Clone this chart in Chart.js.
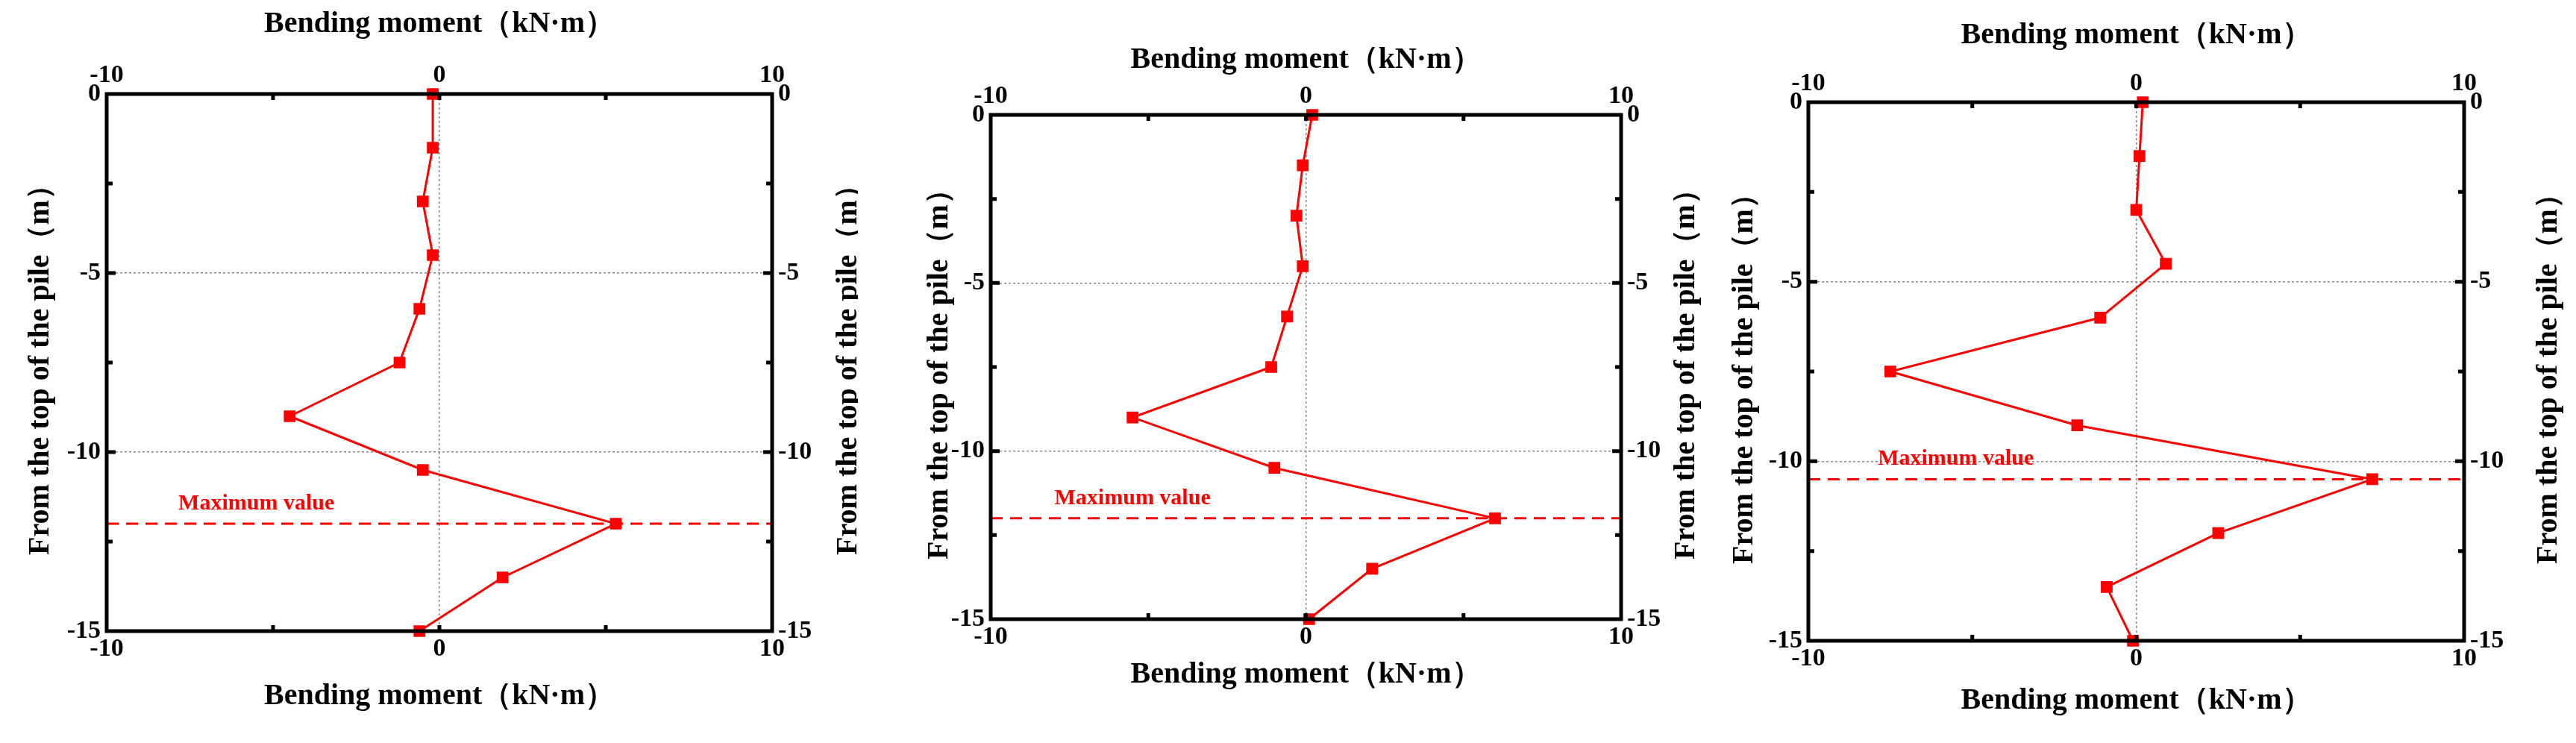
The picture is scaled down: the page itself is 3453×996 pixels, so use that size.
<!DOCTYPE html>
<html><head><meta charset="utf-8">
<script src="https://cdn.jsdelivr.net/npm/chart.js@4/dist/chart.umd.min.js"></script>
<style>
body{margin:0;background:#fff;width:3453px;height:996px;position:relative;overflow:hidden}
.c{position:absolute;top:0;height:996px}
</style></head><body>
<div class="c" style="left:0;width:1150px"><canvas id="c0"></canvas></div>
<div class="c" style="left:1200px;width:1100px"><canvas id="c1"></canvas></div>
<div class="c" style="left:2300px;width:1153px"><canvas id="c2"></canvas></div>
<script>
const depths = [0, -1.5, -3, -4.5, -6, -7.5, -9, -10.5, -12, -13.5, -15];
const moment1 = [-0.2, -0.2, -0.5, -0.2, -0.6, -1.2, -4.5, -0.5, 5.3, 1.9, -0.6];
const moment2 = [0.2, -0.1, -0.3, -0.1, -0.6, -1.1, -5.5, -1.0, 6.0, 2.1, 0.1];
const moment3 = [0.2, 0.1, 0.0, 0.9, -1.1, -7.5, -1.8, 7.2, 2.5, -0.9, -0.1];
const maxDepths = [-12, -12, -10.5];
const xTicks = [-10, 0, 10];
const yTicks = [0, -5, -10, -15];
const xTitle = 'Bending moment（kN·m）';
const yTitle = 'From the top of the pile（m）';
const maxLabel = 'Maximum value';

const boxes = [
  {l:143, r:115, t:126, b:150, ot:93, ob:88, ol:88, or:103},
  {l:128, r:127, t:154, b:166, ot:73, ob:75, ol:68, or:88},
  {l:124, r:150, t:137, b:137, ot:89, ob:81, ol:85, or:114}
];
const series = [moment1, moment2, moment3];
const FONT = 'Liberation Serif';

function makeChart(i){
  const bx = boxes[i];
  const fit = (prop,val)=>function(s){ s[prop]=val; };
  const tickFont = {family:FONT, size:34, weight:'bold'};
  const xScale = (pos, v)=>({
    type:'linear', position:pos, min:-10, max:10,
    afterBuildTicks:s=>{s.ticks = xTicks.map(t=>({value:t}));},
    ticks:{color:'#000', font:tickFont, padding:4, maxRotation:0},
    grid:{display:pos==='bottom', drawTicks:false, color:c=>c.tick && c.tick.value===0?'#888':'rgba(0,0,0,0)', lineWidth:1.5},
    border:{display:false, dash:[3,3]},
    afterFit:fit('height', v)
  });
  const yScale = (pos, v)=>({
    type:'linear', position:pos, min:-15, max:0,
    afterBuildTicks:s=>{s.ticks = yTicks.map(t=>({value:t}));},
    ticks:{color:'#000', font:tickFont, padding:8},
    grid:{display:pos==='left', drawTicks:false, color:c=>c.tick && (c.tick.value===-5||c.tick.value===-10)?'#888':'rgba(0,0,0,0)', lineWidth:1.5},
    border:{display:false, dash:[3,3]},
    afterFit:fit('width', v)
  });
  const annot = {
    id:'annot',
    afterDraw(ch){
      const {ctx, chartArea:a, scales} = ch;
      const x = scales.x, y = scales.y;
      ctx.save();
      const my = y.getPixelForValue(maxDepths[i]);
      ctx.strokeStyle='#ff0000'; ctx.lineWidth=3; ctx.setLineDash([16,10]);
      ctx.beginPath(); ctx.moveTo(a.left,my); ctx.lineTo(a.right,my); ctx.stroke();
      ctx.setLineDash([]);
      ctx.fillStyle='#ff0000'; ctx.font='bold 30px '+FONT; ctx.textAlign='center'; ctx.textBaseline='bottom';
      ctx.fillText(maxLabel, x.getPixelForValue(-5.5), my-12);
      ctx.strokeStyle='#000'; ctx.lineWidth=5;
      ctx.strokeRect(a.left,a.top,a.right-a.left,a.bottom-a.top);
      for(const v of [-5,0,5]){
        const px=x.getPixelForValue(v);
        ctx.beginPath(); ctx.moveTo(px,a.top); ctx.lineTo(px,a.top+8);
        ctx.moveTo(px,a.bottom); ctx.lineTo(px,a.bottom-8); ctx.stroke();
      }
      for(const v of [-2.5,-5,-7.5,-10,-12.5]){
        const py=y.getPixelForValue(v);
        const L = (v%5===0)?12:8;
        ctx.beginPath(); ctx.moveTo(a.left,py); ctx.lineTo(a.left+L,py);
        ctx.moveTo(a.right,py); ctx.lineTo(a.right-L,py); ctx.stroke();
      }
      // axis titles
      ctx.fillStyle='#000'; ctx.font='bold 40px '+FONT; ctx.textAlign='center'; ctx.textBaseline='middle';
      const cx=(a.left+a.right)/2, cy=(a.top+a.bottom)/2;
      ctx.fillText(xTitle, cx, a.top-bx.ot);
      ctx.fillText(xTitle, cx, a.bottom+bx.ob);
      for(const px of [a.left-bx.ol, a.right+bx.or]){
        ctx.save(); ctx.translate(px, cy); ctx.rotate(-Math.PI/2);
        ctx.fillText(yTitle, 0, 0); ctx.restore();
      }
      ctx.restore();
    }
  };
  new Chart(document.getElementById('c'+i), {
    type:'scatter',
    data:{datasets:[{
      data: depths.map((d,k)=>({x:series[i][k], y:d})),
      showLine:true, borderColor:'#ff0000', backgroundColor:'#ff0000',
      borderWidth:3, pointStyle:'rect', pointRadius:9, pointHoverRadius:9,
      xAxisID:'x', yAxisID:'y', clip:false
    }]},
    options:{
      responsive:true, maintainAspectRatio:false, animation:false,
      plugins:{legend:{display:false}, tooltip:{enabled:false}},
      layout:{padding:0},
      scales:{
        x: xScale('bottom', bx.b),
        x2: xScale('top', bx.t),
        y: yScale('left', bx.l),
        y2: yScale('right', bx.r)
      }
    },
    plugins:[annot]
  });
}
[0,1,2].forEach(makeChart);
</script>
</body></html>
